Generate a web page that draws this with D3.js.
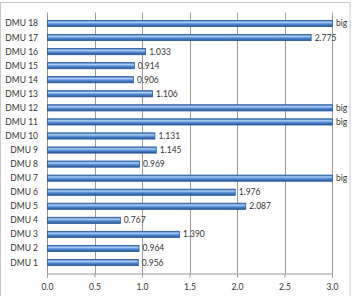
<!DOCTYPE html>
<html>
<head>
<meta charset="utf-8">
<script src="https://cdn.jsdelivr.net/npm/d3@7"></script>
<style>
  body { margin: 0; background: #fff; }
  svg text { font-family: Lato, "Open Sans", sans-serif; fill: #333; }
</style>
</head>
<body>
<div id="chart"></div>
<script>
// DMU values, null = "big" (off the scale)
const categories = ["DMU 1","DMU 2","DMU 3","DMU 4","DMU 5","DMU 6","DMU 7","DMU 8","DMU 9",
                    "DMU 10","DMU 11","DMU 12","DMU 13","DMU 14","DMU 15","DMU 16","DMU 17","DMU 18"];
const values = [0.956, 0.964, 1.390, 0.767, 2.087, 1.976, null, 0.969, 1.145,
                1.131, null, null, 1.106, 0.906, 0.914, 1.033, 2.775, null];
const xTicks = [0, 0.5, 1, 1.5, 2, 2.5, 3];
const xMax = 3;

const svg = d3.select("#chart").append("svg")
  .attr("width", 355)
  .attr("height", 296);

// outer chart border
svg.append("rect")
  .attr("x", 0.5).attr("y", 2.5)
  .attr("width", 349.5).attr("height", 300)
  .attr("fill", "none")
  .attr("stroke", "#c8c8c8");

const margin = {top: 12.5, right: 23, bottom: 22.5, left: 47};
const width = 355 - margin.left - margin.right;
const height = 296 - margin.top - margin.bottom;

const x = d3.scaleLinear().domain([0, xMax]).range([0, width]);
const y = d3.scaleBand().domain(categories.slice().reverse()).range([0, height]).padding(0.56);

const defs = svg.append("defs");
const grad = defs.append("linearGradient")
  .attr("id", "barGrad")
  .attr("x1", 0).attr("y1", 0).attr("x2", 0).attr("y2", 1);
grad.append("stop").attr("offset", "0%").attr("stop-color", "#3168b3");
grad.append("stop").attr("offset", "30%").attr("stop-color", "#b0d0f6");
grad.append("stop").attr("offset", "55%").attr("stop-color", "#5b92da");
grad.append("stop").attr("offset", "100%").attr("stop-color", "#24528f");

const g = svg.append("g")
  .attr("transform", "translate(" + margin.left + "," + margin.top + ")");

// gridlines
g.append("g")
  .selectAll("line")
  .data(xTicks)
  .join("line")
  .attr("x1", d => Math.round(x(d)) + 0.5)
  .attr("x2", d => Math.round(x(d)) + 0.5)
  .attr("y1", 0)
  .attr("y2", height)
  .attr("stroke", "#9a9a9a")
  .attr("stroke-width", 1);

// x axis
const xAxis = d3.axisBottom(x)
  .tickValues(xTicks)
  .tickFormat(d3.format(".1f"))
  .tickSize(4)
  .tickPadding(6);

const ax = g.append("g")
  .attr("transform", "translate(0," + height + ")")
  .call(xAxis);
ax.select(".domain").attr("stroke", "#9a9a9a");
ax.selectAll(".tick line").attr("stroke", "#9a9a9a");
ax.selectAll("text").style("font-size", "8.5px").attr("fill", "#333");

// category labels
g.append("g")
  .selectAll("text")
  .data(categories)
  .join("text")
  .attr("x", -9)
  .attr("y", d => y(d) + y.bandwidth() / 2)
  .attr("dy", "0.35em")
  .attr("text-anchor", "end")
  .style("font-size", "8.5px")
  .text(d => d);

const data = categories.map((c, i) => ({cat: c, v: values[i]}));

// bars
g.append("g")
  .selectAll("rect")
  .data(data)
  .join("rect")
  .attr("x", 0.5)
  .attr("y", d => y(d.cat))
  .attr("width", d => x(d.v === null ? xMax : d.v))
  .attr("height", y.bandwidth())
  .attr("fill", "url(#barGrad)")
  .attr("stroke", "#2b5a9c")
  .attr("stroke-width", 0.8);

// value labels
g.append("g")
  .selectAll("text")
  .data(data)
  .join("text")
  .attr("x", d => x(d.v === null ? xMax : d.v) + 4)
  .attr("y", d => y(d.cat) + y.bandwidth() / 2)
  .attr("dy", "0.35em")
  .style("font-size", "8.5px")
  .text(d => d.v === null ? "big" : d3.format(".3f")(d.v));
</script>
</body>
</html>
